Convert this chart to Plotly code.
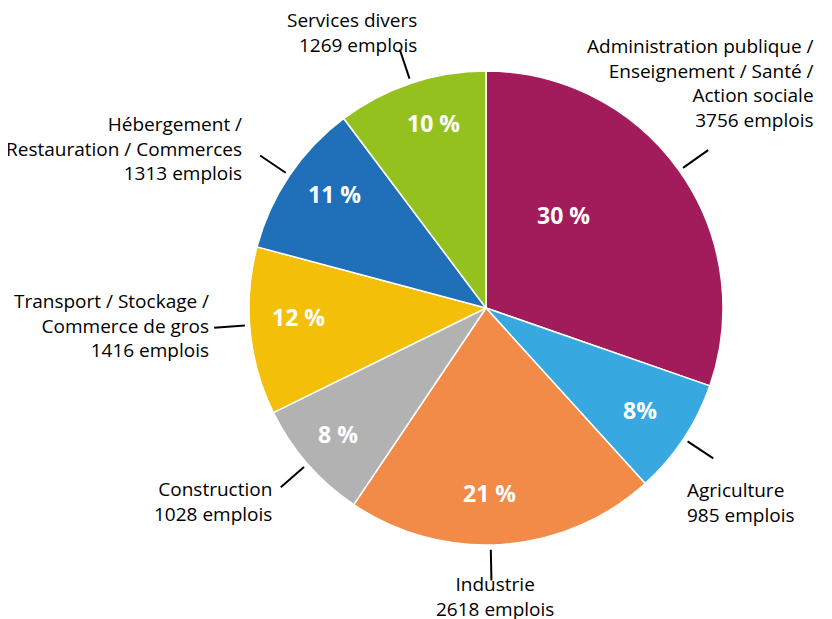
import numpy as np
import plotly.graph_objects as go

# données : emplois par secteur (sens horaire depuis midi)
secteurs = [
    "Administration publique /<br>Enseignement / Santé /<br>Action sociale",
    "Agriculture",
    "Industrie",
    "Construction",
    "Transport / Stockage /<br>Commerce de gros",
    "Hébergement /<br>Restauration / Commerces",
    "Services divers",
]
emplois = [3756, 985, 2618, 1028, 1416, 1313, 1269]
pourcentages = ["30 %", "8%", "21 %", "8 %", "12 %", "11 %", "10 %"]
couleurs = ["#a21b5b", "#38a9e0", "#f28a48", "#b2b2b2", "#f4bf08", "#1f70b8", "#95c11f"]

W, H = 832, 619
OFF = 8  # marge du body de la page html
CX, CY, R = 486 - OFF, 308 - OFF, 237
FONT = "Open Sans"

# placement des textes (pixels de la page) : x, y, xanchor, yanchor
label_pos = [
    (816, 135, "right", "bottom"),
    (685, 475, "left", "top"),
    (495, 569, "center", "top"),
    (274, 474, "right", "top"),
    (211, 325, "right", "middle"),
    (244, 148, "right", "middle"),
    (419, 60, "right", "bottom"),
]
pct_r = [0.51, 0.78, 0.78, 0.82, 0.79, 0.80, 0.81]
pct_da = [-14.6, 0, 3, 0.7, 3, 3, 2.5]
trait_da = [0, 0, 3, 0, 1.5, 0, 0]


def px(x, y):
    return x / W, 1 - y / H


def polar(angle, r):
    a = np.radians(angle)
    return CX + r * np.sin(a), CY - r * np.cos(a)


total = sum(emplois)
cum = np.cumsum(emplois) / total * 360
mid = cum - np.array(emplois) / total * 180

fig = go.Figure()
fig.add_trace(
    go.Pie(
        values=emplois,
        labels=[s.replace("<br>", " ") for s in secteurs],
        sort=False,
        direction="clockwise",
        rotation=0,
        marker=dict(colors=couleurs, line=dict(color="white", width=1.5)),
        textinfo="none",
        hoverinfo="label+value",
        domain=dict(
            x=[(CX - R) / W, (CX + R) / W],
            y=[1 - (CY + R) / H, 1 - (CY - R) / H],
        ),
        showlegend=False,
    )
)

for i, s in enumerate(secteurs):
    # trait de rappel
    x0, y0 = px(*polar(mid[i] + trait_da[i], R * 1.02))
    x1, y1 = px(*polar(mid[i] + trait_da[i], R * 1.15))
    fig.add_shape(type="line", xref="paper", yref="paper",
                  x0=x0, y0=y0, x1=x1, y1=y1,
                  line=dict(color="black", width=2))
    # étiquette extérieure
    lx, ly, xa, ya = label_pos[i]
    ax, ay = px(lx - OFF, ly - OFF)
    fig.add_annotation(
        x=ax, y=ay, xref="paper", yref="paper",
        xanchor=xa, yanchor=ya, align=xa,
        text=f"{s}<br>{emplois[i]} emplois",
        showarrow=False,
        font=dict(family=FONT, size=19, color="black"),
    )
    # pourcentage
    tx, ty = px(*polar(mid[i] + pct_da[i], R * pct_r[i]))
    fig.add_annotation(
        x=tx, y=ty, xref="paper", yref="paper",
        xanchor="center", yanchor="middle",
        text=f"<b>{pourcentages[i]}</b>",
        showarrow=False,
        font=dict(family=FONT, size=23, color="white"),
    )

fig.update_layout(
    width=W, height=H,
    margin=dict(l=0, r=0, t=0, b=0),
    paper_bgcolor="white",
    plot_bgcolor="white",
)

fig.write_html("out.html")
